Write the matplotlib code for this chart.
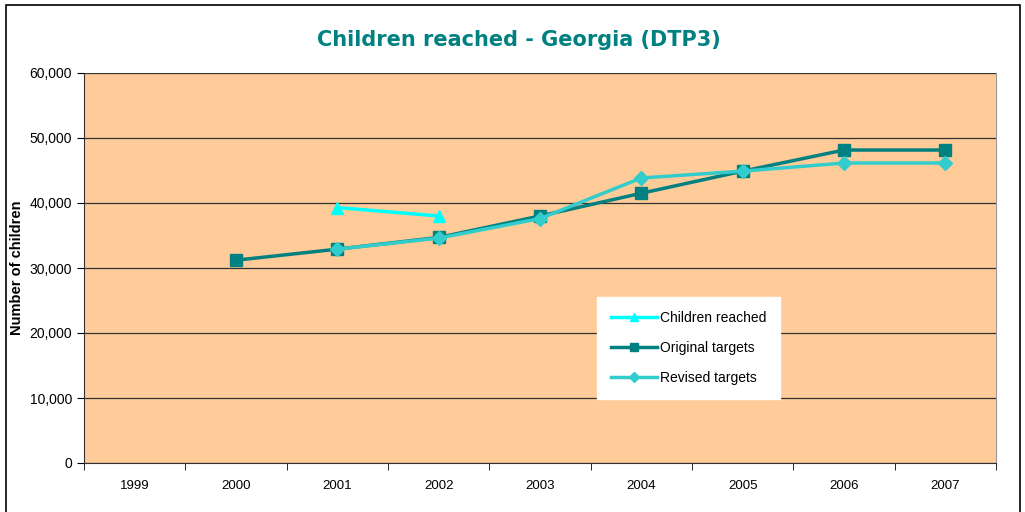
import numpy as np
import matplotlib.pyplot as plt
from matplotlib.patches import Rectangle
from matplotlib.ticker import FuncFormatter

years = ['1999', '2000', '2001', '2002', '2003', '2004', '2005', '2006', '2007']
reached = [np.nan, np.nan, 39300, 38000, np.nan, np.nan, np.nan, np.nan, np.nan]
original = [np.nan, 31200, 32900, 34700, 38000, 41500, 44900, 48150, 48150]
revised = [np.nan, np.nan, 32900, 34600, 37600, 43850, 44900, 46150, 46150]

plt.rcParams['font.family'] = ['Liberation Sans', 'DejaVu Sans']

fig = plt.figure(figsize=(10.25, 5.12), dpi=100)
ax = fig.add_axes([84 / 1025, 1 - 463 / 512, 912 / 1025, 390 / 512])
fig.patches.append(Rectangle((6 / 1025, -0.01), 1014 / 1025, 1.0, transform=fig.transFigure,
                             fill=False, edgecolor='black', linewidth=1.2))

x = np.arange(len(years))
ax.set_facecolor('#FFCC99')
ax.plot(x, original, color='#008080', lw=2.5, marker='s', ms=8, label='Original targets', zorder=3)
ax.plot(x, revised, color='#33CCCC', lw=2.5, marker='D', ms=7, label='Revised targets', zorder=4)
ax.plot(x, reached, color='#00FFFF', lw=2.5, marker='^', ms=8, label='Children reached', zorder=5)

ax.set_xlim(-0.5, len(years) - 0.5)
ax.set_ylim(0, 60000)
ax.set_yticks(np.arange(0, 60001, 10000))
ax.yaxis.set_major_formatter(FuncFormatter(lambda v, p: f'{int(v):,}'))
ax.yaxis.grid(True, color='#333333', lw=0.9)
ax.set_axisbelow(True)
ax.set_xticks(x)
ax.set_xticklabels(years)
ax.set_xticks(np.arange(-0.5, len(years), 1), minor=True)
ax.tick_params(axis='x', which='major', length=0, pad=12, labelsize=9.5)
ax.tick_params(axis='x', which='minor', length=5, direction='out')
ax.tick_params(axis='y', length=5, direction='out', labelsize=10)
ax.spines['top'].set_visible(False)
ax.spines['right'].set_color('#999999')
ax.spines['left'].set_color('#333333')
ax.spines['bottom'].set_color('#333333')
ax.set_ylabel('Number of children', fontsize=10.5, fontweight='bold', labelpad=4)

fig.text(0.506, 1 - 40 / 512, 'Children reached - Georgia (DTP3)', ha='center', va='center',
         fontsize=15, fontweight='bold', color='#008080', family=['DejaVu Sans'])

h, l = ax.get_legend_handles_labels()
order = [2, 0, 1]
leg = ax.legend([h[i] for i in order], [l[i] for i in order], loc='upper left',
                bbox_to_anchor=((597 - 84) / 912, (463 - 297) / 390), frameon=True,
                fancybox=False, edgecolor='white', facecolor='white', fontsize=10,
                labelspacing=1.15, handlelength=3.3, handletextpad=0.2, markerscale=0.8,
                borderpad=1.0, borderaxespad=0)
leg.get_frame().set_alpha(1)

fig.savefig('out.png', dpi=100)
